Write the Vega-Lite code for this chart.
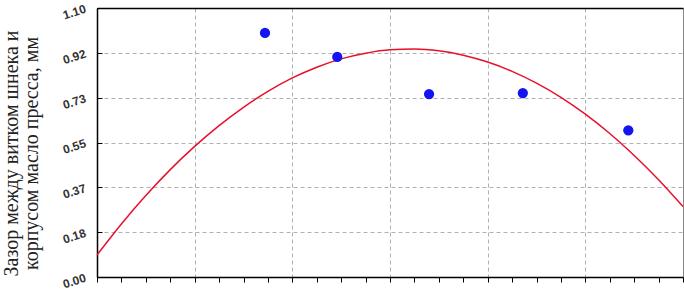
{
  "$schema": "https://vega.github.io/schema/vega-lite/v6.json",
  "width": 586,
  "height": 269,
  "autosize": {"type": "none"},
  "padding": {"left": 97, "top": 8, "right": 1, "bottom": 13},
  "background": "white",
  "config": {"view": {"stroke": "#888888", "strokeWidth": 1}},
  "datasets": {
    "curve": [
      {"x": 0, "y": 0.090}, {"x": 0.25, "y": 0.217}, {"x": 0.5, "y": 0.333}, {"x": 0.75, "y": 0.439},
      {"x": 1.0, "y": 0.534}, {"x": 1.25, "y": 0.619}, {"x": 1.5, "y": 0.694}, {"x": 1.75, "y": 0.759},
      {"x": 2.0, "y": 0.814}, {"x": 2.25, "y": 0.858}, {"x": 2.5, "y": 0.892}, {"x": 2.75, "y": 0.915},
      {"x": 3.0, "y": 0.929}, {"x": 3.25, "y": 0.932}, {"x": 3.5, "y": 0.925}, {"x": 3.75, "y": 0.907},
      {"x": 4.0, "y": 0.879}, {"x": 4.25, "y": 0.841}, {"x": 4.5, "y": 0.793}, {"x": 4.75, "y": 0.735},
      {"x": 5.0, "y": 0.666}, {"x": 5.25, "y": 0.587}, {"x": 5.5, "y": 0.497}, {"x": 5.75, "y": 0.398},
      {"x": 6.0, "y": 0.288}
    ],
    "points": [
      {"x": 1.72, "y": 0.998},
      {"x": 2.46, "y": 0.90},
      {"x": 3.40, "y": 0.748},
      {"x": 4.36, "y": 0.752},
      {"x": 5.44, "y": 0.60}
    ]
  },
  "layer": [
    {
      "data": {"name": "curve"},
      "mark": {"type": "line", "color": "#e8102a", "strokeWidth": 1.5, "interpolate": "monotone"},
      "encoding": {
        "x": {
          "field": "x", "type": "quantitative",
          "scale": {"domain": [0, 6], "nice": false, "zero": false},
          "axis": {
            "orient": "bottom",
            "title": null,
            "labels": false,
            "values": [0,0.25,0.5,0.75,1,1.25,1.5,1.75,2,2.25,2.5,2.75,3,3.25,3.5,3.75,4,4.25,4.5,4.75,5,5.25,5.5,5.75,6],
            "domainColor": "#000000",
            "domainWidth": 1.5,
            "tickColor": "#000000",
            "tickSize": 5,
            "tickWidth": 1,
            "grid": true,
            "gridColor": "#b0b0b0",
            "gridDash": [4, 3],
            "gridWidth": 1,
            "gridOpacity": {"condition": {"test": "datum.value % 1 === 0 && datum.value > 0.01 && datum.value < 5.99", "value": 1}, "value": 0}
          }
        },
        "y": {
          "field": "y", "type": "quantitative",
          "scale": {"domain": [0, 1.1], "nice": false, "zero": false},
          "axis": {
            "orient": "left",
            "values": [0,0.0458333,0.0916667,0.1375,0.1833333,0.2291667,0.275,0.3208333,0.3666667,0.4125,0.4583333,0.5041667,0.55,0.5958333,0.6416667,0.6875,0.7333333,0.7791667,0.825,0.8708333,0.9166667,0.9625,1.0083333,1.0541667,1.1],
            "labelExpr": "round(datum.value*240/11) % 4 === 0 ? format(datum.value, '.2f') : ''",
            "labelFont": "Liberation Sans",
            "labelFontSize": 12,
            "labelFontWeight": "bold",
            "labelColor": "#333333",
            "labelAngle": -18,
            "labelPadding": 17,
            "domainColor": "#000000",
            "domainWidth": 1.5,
            "tickColor": "#000000",
            "tickSize": -5,
            "grid": true,
            "gridColor": "#b0b0b0",
            "gridDash": [4, 3],
            "gridWidth": 1,
            "gridOpacity": {"condition": {"test": "round(datum.value*240/11) % 4 === 0 && datum.value > 0.01 && datum.value < 1.09", "value": 1}, "value": 0},
            "title": ["Зазор между витком шнека и", "корпусом масло пресса, мм"],
            "titleFont": "Liberation Serif",
            "titleFontSize": 20,
            "titleFontWeight": "normal",
            "titleColor": "#222222",
            "titleAngle": -90,
            "titleAlign": "center",
            "titleBaseline": "bottom",
            "titleLineHeight": 20,
            "titleX": -76,
            "titleY": 145
          }
        }
      }
    },
    {
      "data": {"name": "points"},
      "mark": {"type": "circle", "color": "#1414f0", "size": 105, "opacity": 1},
      "encoding": {
        "x": {
          "field": "x", "type": "quantitative",
          "scale": {"domain": [0, 6], "nice": false, "zero": false},
          "axis": {"orient": "top", "title": null, "labels": false, "ticks": false, "grid": false, "domainColor": "#000000", "domainWidth": 1.5}
        },
        "y": {"field": "y", "type": "quantitative"}
      }
    }
  ],
  "resolve": {"axis": {"x": "independent"}}
}
